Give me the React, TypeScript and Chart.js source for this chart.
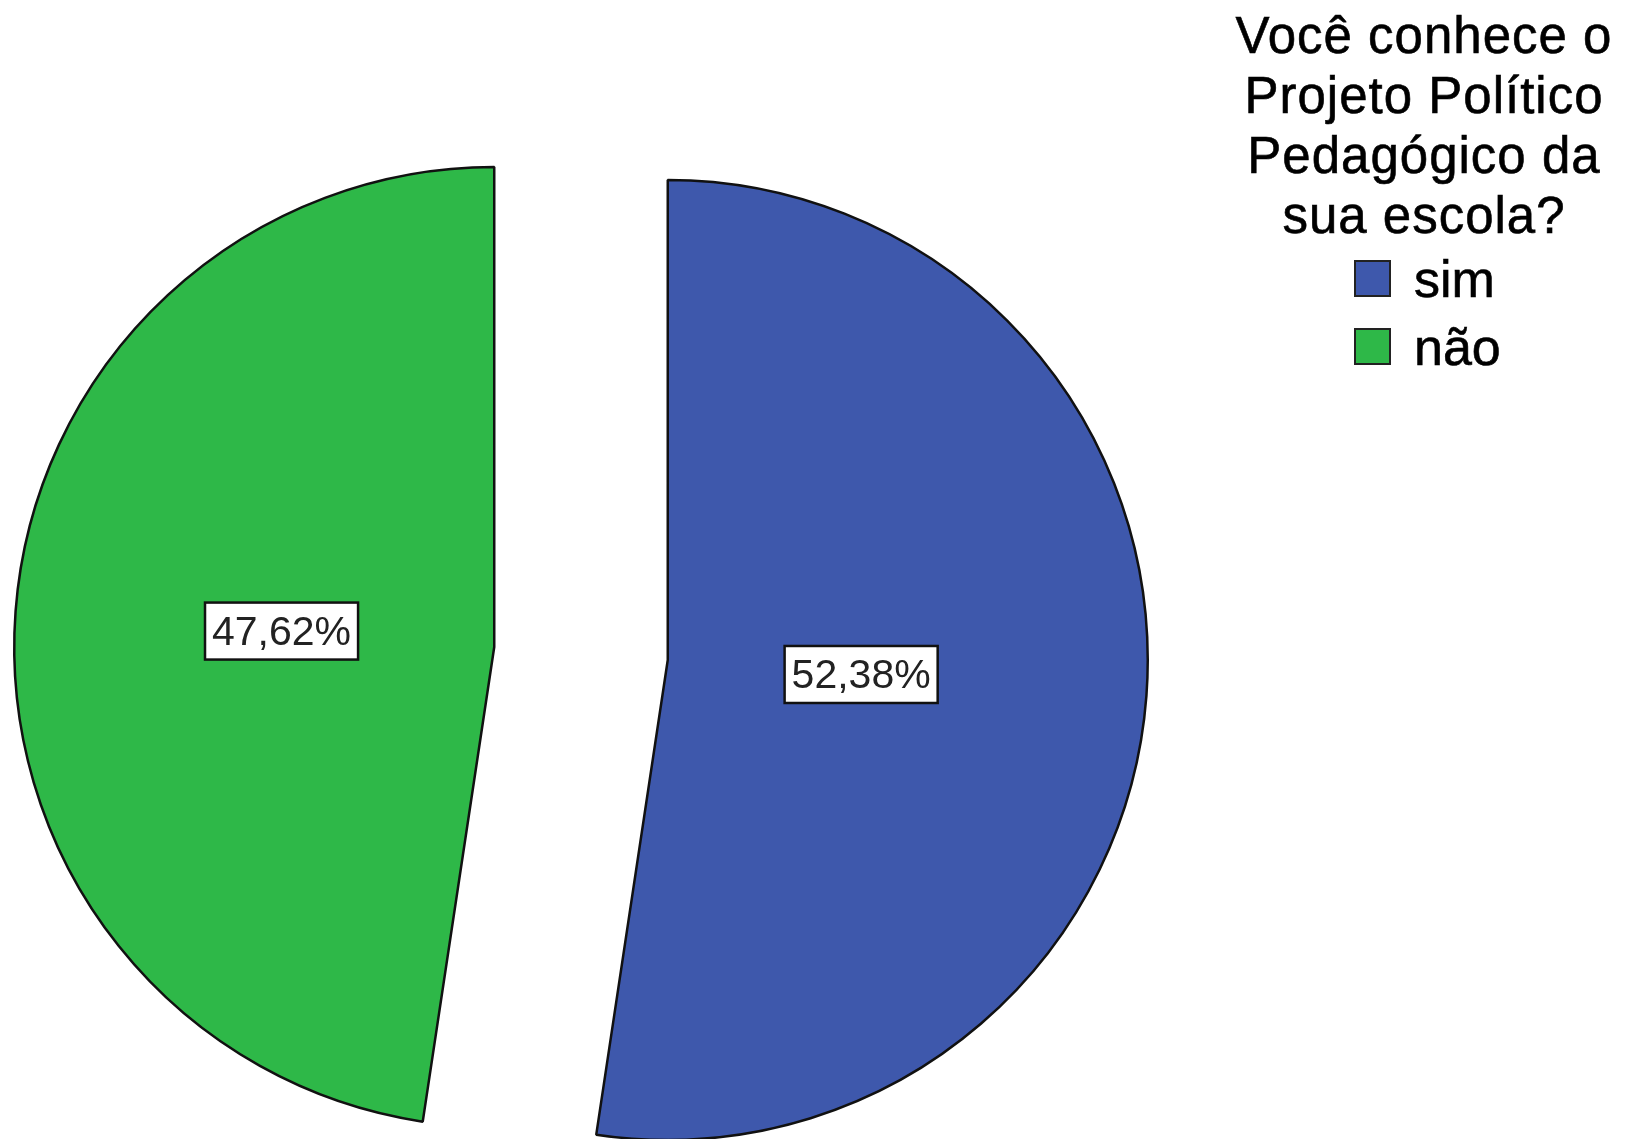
import React, { useEffect, useRef } from "react";
import { Chart, registerables } from "chart.js";

Chart.register(...registerables);

// ---- data ----
const categories = ["sim", "não"];
const percentages = [52.38, 47.62];
const sliceColors = ["#3E58AC", "#2EB848"];
const legendTitle = ["Você conhece o", "Projeto Político", "Pedagógico da", "sua escola?"];

// ---- style constants ----
const EXPLODE = 87;
const RADIUS = 480;
const FONT = '"Liberation Sans", Arial, Helvetica, sans-serif';

const explodePlugin = {
  id: "explodeSlices",
  afterDatasetsUpdate(chart: any) {
    const area = chart.chartArea;
    const cx = (area.left + area.right) / 2;
    const cy = (area.top + area.bottom) / 2;
    chart.getSortedVisibleDatasetMetas().forEach((meta: any) => {
      meta.data.forEach((arc: any) => {
        const mid = (arc.startAngle + arc.endAngle) / 2;
        arc.x = cx + Math.cos(mid) * EXPLODE;
        arc.y = cy + Math.sin(mid) * EXPLODE;
      });
    });
  },
};

const labelPlugin = {
  id: "sliceLabels",
  afterDatasetsDraw(chart: any) {
    const ctx = chart.ctx;
    const meta = chart.getDatasetMeta(0);
    const values = chart.data.datasets[0].data as number[];
    ctx.save();
    ctx.font = `41px ${FONT}`;
    meta.data.forEach((arc: any, i: number) => {
      const theta = arc.endAngle - arc.startAngle;
      const mid = (arc.startAngle + arc.endAngle) / 2;
      const d = (4 * arc.outerRadius * Math.sin(theta / 2)) / (3 * theta);
      const cx = arc.x + Math.cos(mid) * d;
      const cy = arc.y + Math.sin(mid) * d;
      const text = values[i].toFixed(2).replace(".", ",") + "%";
      const w = ctx.measureText(text).width + 14;
      const h = 57;
      ctx.fillStyle = "#ffffff";
      ctx.fillRect(cx - w / 2, cy - h / 2, w, h);
      ctx.lineWidth = 2.5;
      ctx.strokeStyle = "#111111";
      ctx.strokeRect(cx - w / 2, cy - h / 2, w, h);
      ctx.fillStyle = "#222222";
      ctx.textAlign = "center";
      ctx.textBaseline = "alphabetic";
      ctx.fillText(text, cx, cy + 14);
    });
    ctx.restore();
  },
};

export default function App() {
  const canvasRef = useRef<HTMLCanvasElement | null>(null);

  useEffect(() => {
    if (!canvasRef.current) return;
    const chart = new Chart(canvasRef.current, {
      type: "pie",
      data: {
        labels: categories,
        datasets: [
          {
            data: percentages,
            backgroundColor: sliceColors,
            borderColor: "#111111",
            borderWidth: 2.5,
            radius: RADIUS,
          } as any,
        ],
      },
      options: {
        responsive: false,
        animation: false,
        events: [],
        layout: { padding: { left: 0, right: 463, top: 168, bottom: 0 } },
        plugins: {
          legend: { display: false },
          tooltip: { enabled: false },
        },
      },
      plugins: [explodePlugin, labelPlugin],
    });
    return () => chart.destroy();
  }, []);

  const textStroke = { WebkitTextStroke: "0.6px #000" } as any;

  return (
    <div style={{ position: "absolute", left: 0, top: 0, width: 1625, height: 1139, background: "#fff", overflow: "hidden" }}>
      <canvas ref={canvasRef} width={1625} height={1139} style={{ position: "absolute", left: 0, top: 0 }} />
      <div
        style={{
          position: "absolute",
          left: 1224,
          top: 6,
          width: 400,
          textAlign: "center",
          fontFamily: FONT,
          fontSize: 51,
          lineHeight: "60px",
          letterSpacing: "1px",
          color: "#000",
          whiteSpace: "pre",
          ...textStroke,
        }}
      >
        {legendTitle.map((t) => (
          <div key={t}>{t}</div>
        ))}
      </div>
      <div
        style={{
          position: "absolute",
          left: 1354,
          top: 245,
          fontFamily: FONT,
          fontSize: 52,
          lineHeight: "68px",
          color: "#000",
          whiteSpace: "pre",
          ...textStroke,
        }}
      >
        {categories.map((c, i) => (
          <div key={c}>
            <span
              style={{
                display: "inline-block",
                width: 33,
                height: 33,
                border: "2.5px solid #222",
                background: sliceColors[i],
                verticalAlign: "baseline",
                marginRight: 23,
              }}
            />
            {c}
          </div>
        ))}
      </div>
    </div>
  );
}
